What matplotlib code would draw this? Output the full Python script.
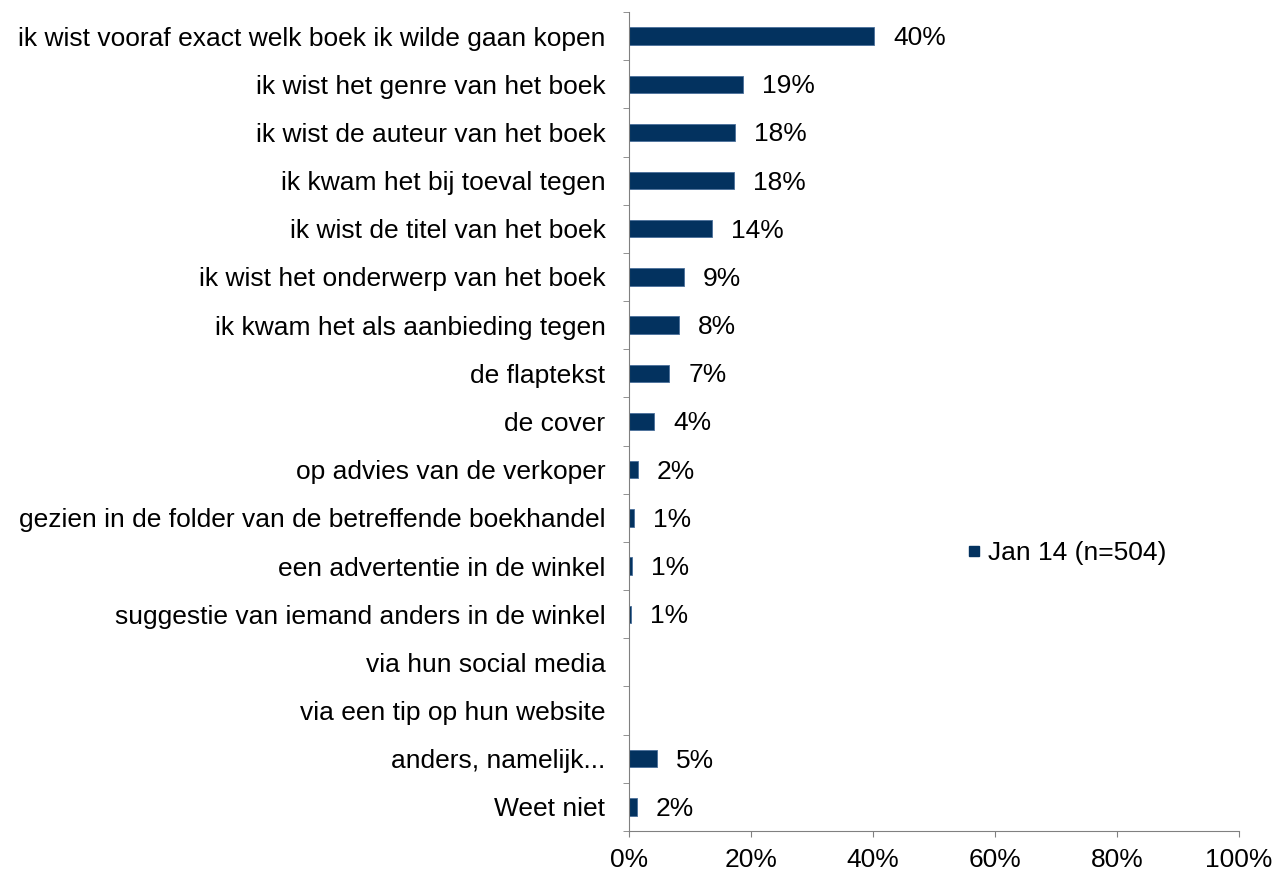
import numpy as np
import matplotlib.pyplot as plt
from matplotlib.lines import Line2D
from matplotlib.ticker import FixedLocator, PercentFormatter

plt.rcParams['font.family'] = ['Liberation Sans', 'DejaVu Sans']

categories = [
    "ik wist vooraf exact welk boek ik wilde gaan kopen",
    "ik wist het genre van het boek",
    "ik wist de auteur van het boek",
    "ik kwam het bij toeval tegen",
    "ik wist de titel van het boek",
    "ik wist het onderwerp van het boek",
    "ik kwam het als aanbieding tegen",
    "de flaptekst",
    "de cover",
    "op advies van de verkoper",
    "gezien in de folder van de betreffende boekhandel",
    "een advertentie in de winkel",
    "suggestie van iemand anders in de winkel",
    "via hun social media",
    "via een tip op hun website",
    "anders, namelijk...",
    "Weet niet",
]
values = [40.2, 18.7, 17.4, 17.2, 13.6, 9.0, 8.2, 6.6, 4.1, 1.5, 0.8, 0.5, 0.3, 0, 0, 4.6, 1.3]
value_labels = ["40%", "19%", "18%", "18%", "14%", "9%", "8%", "7%", "4%", "2%",
                "1%", "1%", "1%", "", "", "5%", "2%"]
series_name = "Jan 14 (n=504)"
bar_color = "#03325f"
fs = 19

fig = plt.figure(figsize=(12.76, 8.72), dpi=100)
ax = fig.add_axes([629 / 1276, 1 - 831 / 872, (1239 - 629) / 1276, (831 - 12) / 872])

y = np.arange(len(categories))
ax.barh(y, values, height=0.36, color=bar_color, edgecolor="#4a6f9a", linewidth=0.6)
for yi, v, lab in zip(y, values, value_labels):
    if lab:
        ax.text(v + 3.1, yi + 0.04, lab, va="center", ha="left", fontsize=fs)

ax.set_ylim(len(categories) - 0.5, -0.5)
ax.set_xlim(0, 100)
ax.set_yticks(y)
ax.set_yticklabels(categories, fontsize=fs)
ax.yaxis.set_minor_locator(FixedLocator(np.arange(-0.5, len(categories), 1.0)))
ax.tick_params(axis="y", which="major", length=0, pad=17)
ax.tick_params(axis="y", which="minor", length=4, color="#808080")
ax.set_xticks(np.arange(0, 101, 20))
ax.xaxis.set_major_formatter(PercentFormatter(decimals=0))
ax.tick_params(axis="x", length=4, color="#808080", labelsize=fs, pad=8)

for side in ["top", "right"]:
    ax.spines[side].set_visible(False)
for side in ["left", "bottom"]:
    ax.spines[side].set_color("#808080")

handle = Line2D([], [], marker="s", linestyle="none", color=bar_color, markersize=7.5)
fig.legend([handle], [series_name], loc="center left",
           bbox_to_anchor=(940 / 1276, 1 - 553 / 872), frameon=False,
           fontsize=fs, handletextpad=0.1, handlelength=0.8)

fig.savefig("out.png", dpi=100)
